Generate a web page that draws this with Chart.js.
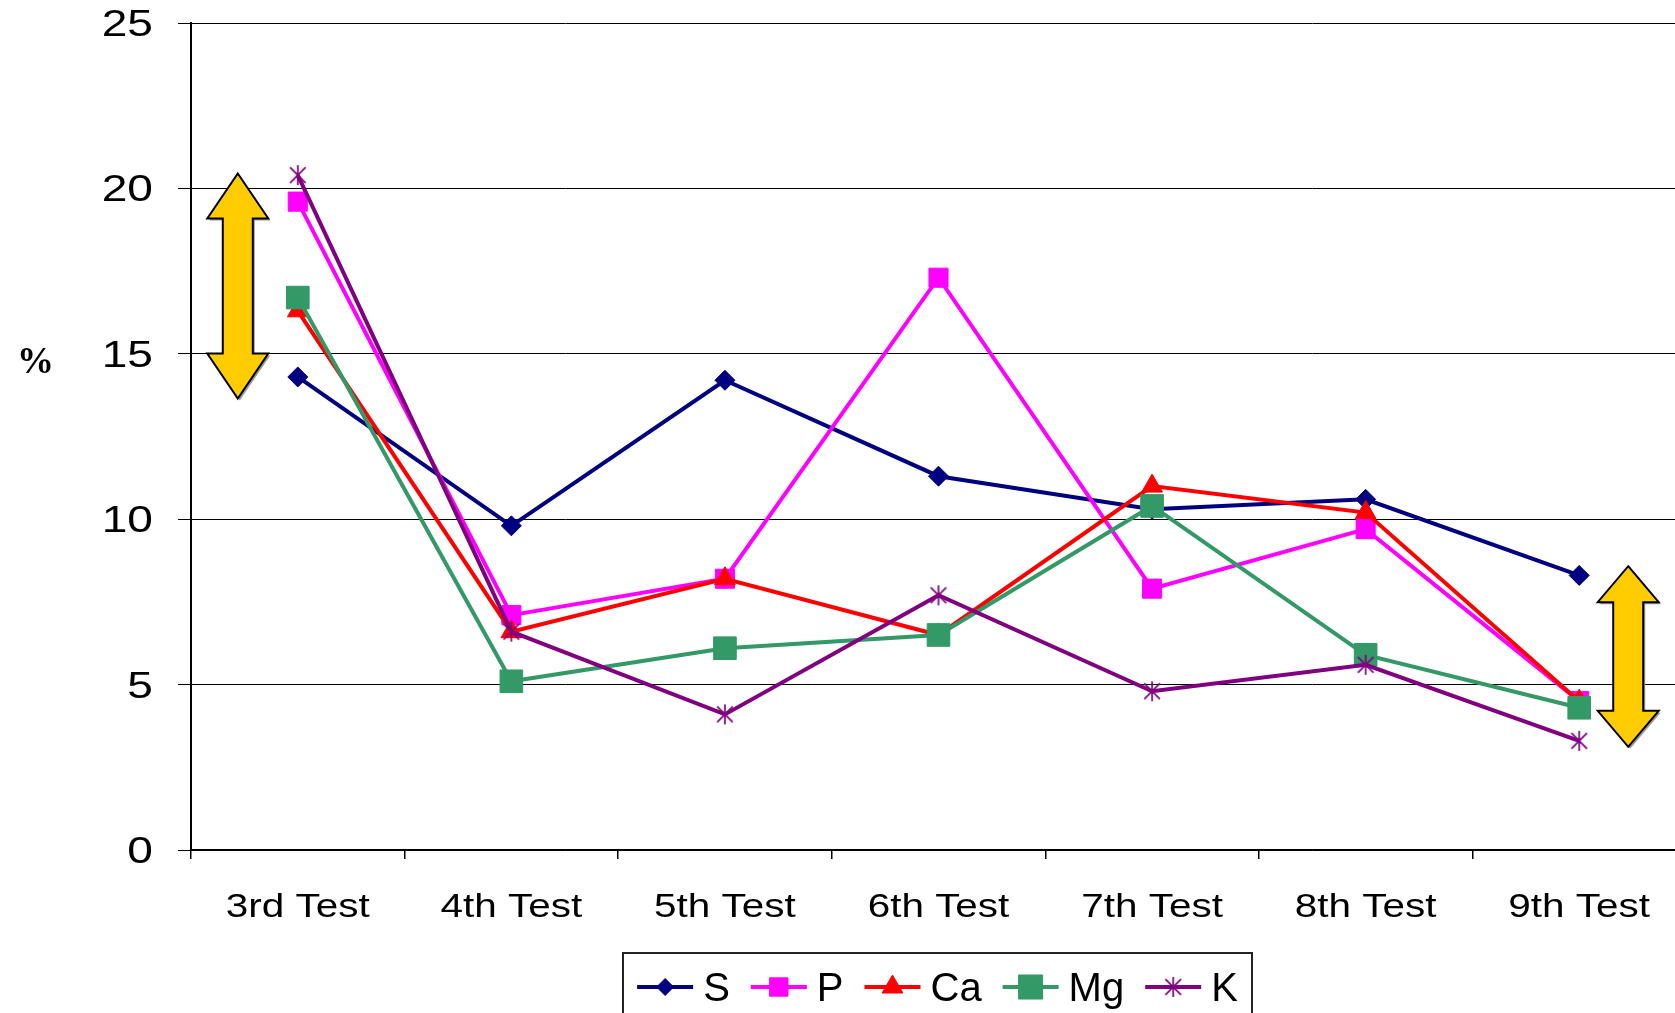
<!DOCTYPE html>
<html>
<head>
<meta charset="utf-8">
<script src="https://cdn.jsdelivr.net/npm/chart.js@4/dist/chart.umd.min.js"></script>
<style>
    html, body { margin: 0; padding: 0; background: #fff; overflow: hidden; }
    #wrap { width: 1675px; height: 1013px; overflow: hidden; }
    canvas { display: block; }
</style>
</head>
<body>
<div id="wrap"><canvas id="testChart" width="1703" height="1013"></canvas></div>
<script>
/* ========================================
   Element share per test
   ======================================== */

const categories = ['3rd Test', '4th Test', '5th Test', '6th Test', '7th Test', '8th Test', '9th Test'];
const sValues  = [14.3, 9.8, 14.2, 11.3, 10.3, 10.6, 8.3];
const pValues  = [19.6, 7.1, 8.2, 17.3, 7.9, 9.7, 4.5];
const caValues = [16.3, 6.6, 8.2, 6.5, 11.0, 10.2, 4.5];
const mgValues = [16.7, 5.1, 6.1, 6.5, 10.4, 5.9, 4.3];
const kValues  = [20.4, 6.6, 4.1, 7.7, 4.8, 5.6, 3.3];
const yMin = 0, yMax = 25, yStep = 5;
const yTitle = '%';

// double arrows: [category index, top value, bottom value]
const arrowSpans = [[0, 20.45, 13.65], [6, 8.58, 3.12]];
const arrowOffsets = [-60, 49];
const arrowHeads = [45, 36];

// asterisk marker like the one for K
function makeStar(color, size) {
    const c = document.createElement('canvas');
    c.width = size; c.height = size;
    const g = c.getContext('2d');
    const m = size / 2, r = size / 2 - 1;
    g.strokeStyle = color;
    g.lineWidth = 1.7;
    g.beginPath();
    g.moveTo(m, m - r); g.lineTo(m, m + r);
    g.moveTo(m - r * 0.78, m - r * 0.78); g.lineTo(m + r * 0.78, m + r * 0.78);
    g.moveTo(m + r * 0.78, m - r * 0.78); g.lineTo(m - r * 0.78, m + r * 0.78);
    g.stroke();
    return c;
}

function series(label, data, color, style, radius, order) {
    return {
        label: label,
        data: data,
        borderColor: color,
        backgroundColor: color,
        borderWidth: 4,
        tension: 0,
        pointStyle: style,
        pointRadius: radius,
        pointBackgroundColor: color,
        pointBorderColor: color,
        pointBorderWidth: 1,
        order: order
    };
}

const starK = makeStar('#800080', 22);

const datasets = [
    series('S', sValues, '#000080', 'rectRot', 10, 5),
    series('P', pValues, '#FF00FF', 'rect', 13.5, 4),
    series('Ca', caValues, '#FF0000', 'triangle', 12, 3),
    series('Mg', mgValues, '#339966', 'rect', 16, 2),
    series('K', kValues, '#800080', starK, 11, 1)
];
const legendRadius = [8.5, 13, 12, 17, 11];

function stretchedText(ctx, text, x, y, align, sx) {
    ctx.save();
    ctx.translate(x, y);
    ctx.scale(sx, 1);
    ctx.textAlign = align;
    ctx.textBaseline = 'alphabetic';
    ctx.fillText(text, 0, 0);
    ctx.restore();
}

const labelsPlugin = {
    id: 'labels',
    afterDraw(chart) {
        const ctx = chart.ctx;
        const xs = chart.scales.x, ys = chart.scales.y;
        ctx.save();
        ctx.fillStyle = '#000';

        // y tick labels
        ctx.font = '36px "Liberation Sans", Arial, sans-serif';
        ys.ticks.forEach((t, i) => {
            stretchedText(ctx, String(t.value), xs.left - 38, ys.getPixelForTick(i) + 13, 'right', 1.28);
        });

        // x category labels
        ctx.font = '34px "Liberation Sans", Arial, sans-serif';
        categories.forEach((c, i) => {
            stretchedText(ctx, c, xs.getPixelForTick(i), xs.top + 67, 'center', 1.19);
        });

        // axis title
        ctx.font = 'bold 37px "Liberation Serif", "Times New Roman", serif';
        ctx.textAlign = 'left';
        ctx.fillText(yTitle, 17, ys.getPixelForValue(15) + 19);

        // legend box
        const boxL = 623, boxR = 1252, boxT = 953;
        ctx.strokeStyle = '#222';
        ctx.lineWidth = 2;
        ctx.strokeRect(boxL, boxT, boxR - boxL, 80);

        ctx.font = '40px "Liberation Sans", Arial, sans-serif';
        const lineLen = 56, gapText = 10, gapItem = 21;
        const widths = chart.data.datasets.map(d => ctx.measureText(d.label).width);
        let total = widths.reduce((a, b) => a + b, 0) + chart.data.datasets.length * (lineLen + gapText) + gapItem * (chart.data.datasets.length - 1);
        let x = (boxL + boxR) / 2 - total / 2;
        const ly = 987;
        chart.data.datasets.forEach((d, i) => {
            ctx.strokeStyle = d.borderColor;
            ctx.lineWidth = 4;
            ctx.beginPath();
            ctx.moveTo(x, ly); ctx.lineTo(x + lineLen, ly);
            ctx.stroke();
            ctx.fillStyle = d.borderColor;
            ctx.lineWidth = 1;
            Chart.helpers.drawPoint(ctx, {
                pointStyle: d.pointStyle, rotation: 0, radius: legendRadius[i], borderWidth: 1
            }, x + lineLen / 2, ly);
            ctx.fillStyle = '#000';
            ctx.textAlign = 'left';
            ctx.fillText(d.label, x + lineLen + gapText, 1001);
            x += lineLen + gapText + widths[i] + gapItem;
        });
        ctx.restore();
    }
};

const arrowPlugin = {
    id: 'arrows',
    afterDatasetsDraw(chart) {
        const ctx = chart.ctx;
        const xs = chart.scales.x, ys = chart.scales.y;
        arrowSpans.forEach((a, i) => {
            const cx = xs.getPixelForValue(a[0]) + arrowOffsets[i];
            const top = ys.getPixelForValue(a[1]);
            const bot = ys.getPixelForValue(a[2]);
            const head = arrowHeads[i], hw = 30.5, sw = 15;
            ctx.save();
            ctx.beginPath();
            ctx.moveTo(cx, top);
            ctx.lineTo(cx + hw, top + head);
            ctx.lineTo(cx + sw, top + head);
            ctx.lineTo(cx + sw, bot - head);
            ctx.lineTo(cx + hw, bot - head);
            ctx.lineTo(cx, bot);
            ctx.lineTo(cx - hw, bot - head);
            ctx.lineTo(cx - sw, bot - head);
            ctx.lineTo(cx - sw, top + head);
            ctx.lineTo(cx - hw, top + head);
            ctx.closePath();
            ctx.shadowColor = '#999';
            ctx.shadowOffsetX = 2;
            ctx.shadowOffsetY = 2;
            ctx.fillStyle = '#FFCC00';
            ctx.fill();
            ctx.shadowColor = 'transparent';
            ctx.strokeStyle = '#000';
            ctx.lineWidth = 2;
            ctx.lineJoin = 'miter';
            ctx.stroke();
            ctx.restore();
        });
    }
};

new Chart(document.getElementById('testChart'), {
    type: 'line',
    data: { labels: categories, datasets: datasets },
    options: {
        responsive: false,
        animation: false,
        devicePixelRatio: 1,
        layout: { padding: { left: 0, top: 23, right: 3, bottom: 73 } },
        plugins: {
            legend: { display: false },
            tooltip: { enabled: false }
        },
        scales: {
            x: {
                offset: true,
                grid: { drawOnChartArea: false, drawTicks: true, tickLength: 9, color: '#000', lineWidth: 1.5, offset: true },
                border: { color: '#000', width: 1.5 },
                ticks: { display: false },
                afterFit(scale) { scale.height = 90; }
            },
            y: {
                min: yMin,
                max: yMax,
                ticks: { stepSize: yStep, display: false },
                grid: { color: '#000', lineWidth: 1, tickLength: 13 },
                border: { color: '#000', width: 2 },
                afterFit(scale) { scale.width = 191; }
            }
        }
    },
    plugins: [arrowPlugin, labelsPlugin]
});
</script>
</body>
</html>
